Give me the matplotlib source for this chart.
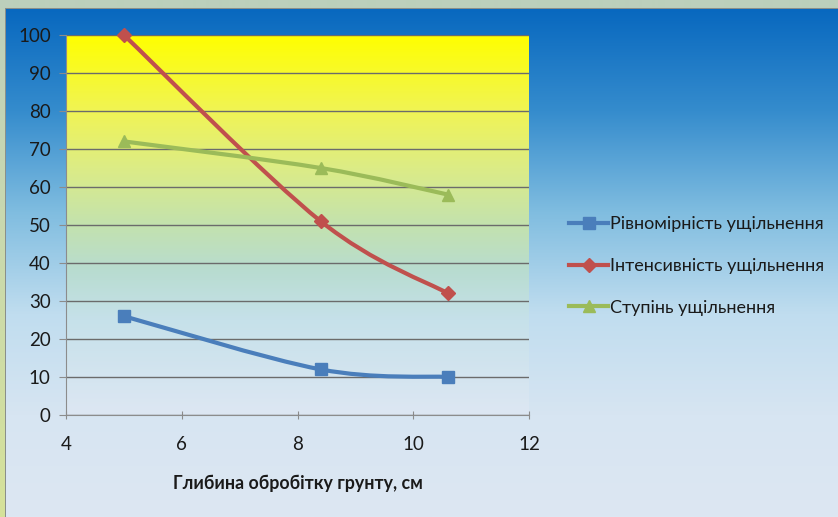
import numpy as np
import matplotlib.pyplot as plt
from matplotlib.path import Path
from matplotlib.patches import PathPatch
from matplotlib.colors import to_rgb

plt.rcParams['font.family'] = ['Lato', 'DejaVu Sans']

# data
depth = [5.0, 8.4, 10.6]
uniformity = [26, 12, 10]
intensity = [100, 51, 32]
degree = [72, 65, 58]

labels = ['Рівномірність ущільнення', 'Інтенсивність ущільнення', 'Ступінь ущільнення']
colors = ['#4a7ebb', '#c0504d', '#9bbb59']
markers = ['s', 'D', '^']
xlabel = 'Глибина обробітку грунту, см'


def gradient(n, stops):
    pos = [s[0] for s in stops]
    cols = np.array([to_rgb(s[1]) for s in stops])
    t = np.linspace(0, 1, n)
    return np.stack([np.interp(t, pos, cols[:, k]) for k in range(3)], axis=1)


def smooth_path(x, y):
    # Excel-like smoothed line: cubic bezier through the points
    pts = np.column_stack([x, y]).astype(float)
    ext = np.vstack([pts[0], pts, pts[-1]])
    verts = [pts[0]]
    codes = [Path.MOVETO]
    for i in range(len(pts) - 1):
        p0, p1, p2, p3 = ext[i], ext[i + 1], ext[i + 2], ext[i + 3]
        verts += [p1 + (p2 - p0) / 6, p2 - (p3 - p1) / 6, p2]
        codes += [Path.CURVE4] * 3
    return Path(verts, codes)


W, H = 838, 517
fig = plt.figure(figsize=(W / 100, H / 100), dpi=100)

# background: outer frame + blue gradient
bg = np.zeros((H, W, 3))
bg[:, :] = to_rgb('#bccfbc')
bg[:, :5] = gradient(H, [(0, '#bccfbc'), (0.4, '#c8d8b0'), (1, '#d6e29a')])[:, None, :]
inner = gradient(H - 9, [(0, '#0868bf'), (0.2, '#358ccd'), (0.4, '#80bde0'),
                          (0.6, '#c0ddef'), (0.8, '#d7e5f2'), (1, '#dde7f3')])
bg[9:, 6:] = inner[:, None, :]
bg[8, 5:] = to_rgb('#8a8f8a')
bg[8:, 5] = to_rgb('#8a8f8a')
bax = fig.add_axes([0, 0, 1, 1], zorder=-5)
bax.imshow(bg, aspect='auto', interpolation='bilinear')
bax.axis('off')

ax = fig.add_axes([66 / W, 1 - 415 / H, (529 - 66) / W, (415 - 35) / H])
ax.patch.set_visible(False)
plot_bg = gradient(380, [(0, '#ffff00'), (0.2, '#f0f455'), (0.35, '#dcec86'),
                         (0.5, '#c3e2ae'), (0.62, '#b8dcd0'), (0.75, '#c6e1ea'),
                         (1, '#dde7f3')])
ax.imshow(plot_bg[:, None, :], extent=(4, 12, 0, 100), aspect='auto', zorder=0)

ax.set_xlim(4, 12)
ax.set_ylim(0, 100)
ax.set_xticks([4, 6, 8, 10, 12])
ax.set_yticks(range(0, 101, 10))
ax.yaxis.grid(True, color='#6b6b6b', lw=1)
ax.set_axisbelow(True)
for s in ['top', 'right']:
    ax.spines[s].set_visible(False)
for s in ['left', 'bottom']:
    ax.spines[s].set_color('#8c8c8c')
ax.tick_params(axis='y', direction='out', length=5, color='#8c8c8c', labelsize=13.5,
               pad=6, labelcolor='#1a1a1a')
ax.tick_params(axis='x', direction='inout', length=6, color='#8c8c8c', labelsize=13.5,
               pad=12, labelcolor='#1a1a1a')
ax.set_xlabel(xlabel, fontsize=12.8, fontweight='bold', labelpad=16, color='#1a1a1a')

series = [uniformity, intensity, degree]
msize = [9, 7.5, 9]
for vals, c, m, lab, ms in zip(series, colors, markers, labels, msize):
    ax.add_patch(PathPatch(smooth_path(depth, vals), fill=False, ec=c, lw=3,
                           zorder=3, clip_on=False, capstyle='round'))
    ax.plot(depth, vals, ls='none', marker=m, color=c, ms=ms, zorder=4,
            clip_on=False)
    ax.plot([], [], color=c, lw=3, marker=m, ms=ms, label=lab)

fig.legend(loc='center left', bbox_to_anchor=(553 / W, 1 - 266 / H), frameon=False,
           fontsize=13, handlelength=2.15, handletextpad=0.1, labelspacing=1.42,
           labelcolor='#1a1a1a')

fig.savefig('out.png', dpi=100)
